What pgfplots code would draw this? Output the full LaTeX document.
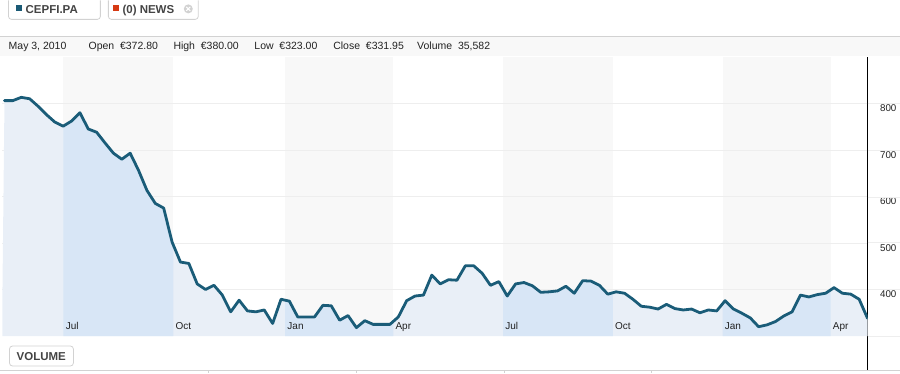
\documentclass[border=0pt]{standalone}
\usepackage{fontspec}
\setmainfont{Liberation Sans}
\usepackage{pgfplots}
\usepackage{pgfplotstable}
\pgfplotsset{compat=1.18}
\usepgfplotslibrary{fillbetween}
\definecolor{priceline}{HTML}{1A5C78}
\definecolor{fillA}{HTML}{E9EFF7}
\definecolor{fillB}{HTML}{D8E6F6}
\definecolor{bandg}{HTML}{F8F8F8}
\definecolor{gridc}{HTML}{EEEEEE}
\definecolor{btnb}{HTML}{D2D2D2}
\definecolor{txt}{HTML}{222222}
\definecolor{btntxt}{HTML}{444444}
\definecolor{sqteal}{HTML}{1A5A75}
\definecolor{sqred}{HTML}{D63A14}
\definecolor{infobg}{HTML}{F8F8F8}

\pgfplotstableread{
i v
0 806
1 806
2 813
3 810
4 794
5 776
6 760
7 751
8 762
9 780
10 745
11 738
12 715
13 693
14 680
15 693
16 656
17 613
18 585
19 575
20 502
21 459
22 456
23 412
24 400
25 409
26 388
27 352
28 377
29 354
30 352
31 356
32 327
33 379
34 375
35 341
36 341
37 341
38 366
39 365
40 334
41 344
42 318
43 333
44 325
45 325
46 325
47 341
48 376
49 386
50 388
51 431
52 412
53 421
54 420
55 451
56 451
57 435
58 409
59 417
60 386
61 412
62 415
63 408
64 394
65 395
66 397
67 407
68 392
69 419
70 418
71 409
72 390
73 395
74 392
75 379
76 364
77 362
78 358
79 368
80 359
81 356
82 358
83 350
84 356
85 354
86 376
87 358
88 349
89 339
90 320
91 324
92 331
93 343
94 352
95 388
96 384
97 389
98 392
99 404
100 392
101 390
102 379
103 338
}\price

\begin{document}
\begin{tikzpicture}
\path (0pt,0pt) rectangle (900pt,-374pt);
% header buttons
\fill[white] (8pt,0pt) rectangle (100pt,-19pt);
\draw[btnb, rounded corners=3pt, line width=0.8pt] (8pt,0pt) -- (8pt,-19pt) -- (100pt,-19pt) -- (100pt,0pt);
\fill[sqteal] (16pt,-5pt) rectangle (22pt,-11pt);
\node[anchor=base west, inner sep=0pt, font=\fontsize{11.5}{12}\selectfont\bfseries, text=btntxt] at (25pt,-13.5pt) {CEPFI.PA};
\draw[btnb, rounded corners=3pt, line width=0.8pt] (108pt,0pt) -- (108pt,-19pt) -- (198pt,-19pt) -- (198pt,0pt);
\fill[sqred] (113pt,-5pt) rectangle (119pt,-11pt);
\node[anchor=base west, inner sep=0pt, font=\fontsize{11.5}{12}\selectfont\bfseries, text=btntxt] at (122pt,-13.5pt) {(0) NEWS};
\fill[btnb] (188pt,-8.5pt) circle (4.5pt);
\draw[white, line width=1pt] (186pt,-6.5pt) -- (190pt,-10.5pt) (186pt,-10.5pt) -- (190pt,-6.5pt);
% info bar
\fill[infobg] (0pt,-36pt) rectangle (900pt,-56pt);
\draw[btnb, line width=0.6pt] (0pt,-35.5pt) -- (900pt,-35.5pt);
\begin{scope}[every node/.style={anchor=base west, inner sep=0pt, font=\fontsize{10.5}{12}\selectfont, text=txt}]
\node at (8pt,-49pt) {May 3, 2010};
\node at (88pt,-49pt) {Open\ \ €372.80};
\node at (173pt,-49pt) {High\ \ €380.00};
\node at (254pt,-49pt) {Low\ \ €323.00};
\node at (333pt,-49pt) {Close\ \ €331.95};
\node at (417pt,-49pt) {Volume\ \ 35,582};
\end{scope}
% gridline extensions right of axis
\foreach \yy in {103,150,197,242,289,336} {\draw[gridc, line width=0.8pt] (868pt,-\yy pt) -- (900pt,-\yy pt);}
% bottom
\draw[btnb, line width=1pt] (0pt,-371pt) -- (900pt,-371pt);
\foreach \xx in {208,356,504,652} {\draw[btnb, line width=0.8pt] (\xx pt,-371pt) -- (\xx pt,-373.5pt);}
\draw[btnb, fill=white, rounded corners=3pt, line width=0.8pt] (9pt,-346pt) rectangle (73pt,-366pt);
\node[anchor=base west, inner sep=0pt, font=\fontsize{11.5}{12}\selectfont\bfseries, text=btntxt] at (16pt,-360pt) {VOLUME};

\begin{axis}[
  set layers,
  at={(2pt,-370pt)}, anchor=south west,
  scale only axis, width=866pt, height=313pt,
  xmin=-0.238, xmax=103, ymin=227, ymax=899,
  axis y line*=right,
  axis x line*=bottom,
  x axis line style={draw=none},
  y axis line style={black, line width=0.9pt},
  xtick=\empty,
  ytick={400,500,600,700,800},
  ymajorgrids, major grid style={gridc, line width=0.8pt},
  major tick length=0pt,
  yticklabel style={anchor=west, xshift=9pt, yshift=-5pt, font=\fontsize{9.8}{10}\selectfont, text=txt},
  /pgf/number format/assume math mode=true,
]
\begin{pgfonlayer}{axis background}
\fill[bandg] (axis cs:7.03,300) rectangle (axis cs:20.15,899);
\fill[bandg] (axis cs:33.5,300) rectangle (axis cs:46.4,899);
\fill[bandg] (axis cs:59.5,300) rectangle (axis cs:72.6,899);
\fill[bandg] (axis cs:85.7,300) rectangle (axis cs:98.6,899);
\end{pgfonlayer}
\addplot[draw=none, name path=p, forget plot] table[x=i, y=v] {\price};
\addplot[draw=none, name path=b, forget plot] coordinates {(-0.3,300) (103,300)};
\addplot[fillA, forget plot] fill between[of=p and b];
\addplot[fillB, forget plot] fill between[of=p and b, soft clip={domain=7.03:20.15}];
\addplot[fillB, forget plot] fill between[of=p and b, soft clip={domain=33.5:46.4}];
\addplot[fillB, forget plot] fill between[of=p and b, soft clip={domain=59.5:72.6}];
\addplot[fillB, forget plot] fill between[of=p and b, soft clip={domain=85.7:98.6}];
\addplot[priceline, line width=2.8pt, line join=round, line cap=round] table[x=i, y=v] {\price};
\node[anchor=base west, inner sep=0pt, font=\fontsize{10}{11}\selectfont, text=txt] at (axis cs:7.3,313) {Jul};
\node[anchor=base west, inner sep=0pt, font=\fontsize{10}{11}\selectfont, text=txt] at (axis cs:20.4,313) {Oct};
\node[anchor=base west, inner sep=0pt, font=\fontsize{10}{11}\selectfont, text=txt] at (axis cs:33.75,313) {Jan};
\node[anchor=base west, inner sep=0pt, font=\fontsize{10}{11}\selectfont, text=txt] at (axis cs:46.65,313) {Apr};
\node[anchor=base west, inner sep=0pt, font=\fontsize{10}{11}\selectfont, text=txt] at (axis cs:59.75,313) {Jul};
\node[anchor=base west, inner sep=0pt, font=\fontsize{10}{11}\selectfont, text=txt] at (axis cs:72.85,313) {Oct};
\node[anchor=base west, inner sep=0pt, font=\fontsize{10}{11}\selectfont, text=txt] at (axis cs:85.95,313) {Jan};
\node[anchor=base west, inner sep=0pt, font=\fontsize{10}{11}\selectfont, text=txt] at (axis cs:98.85,313) {Apr};
\end{axis}
\end{tikzpicture}
\end{document}
